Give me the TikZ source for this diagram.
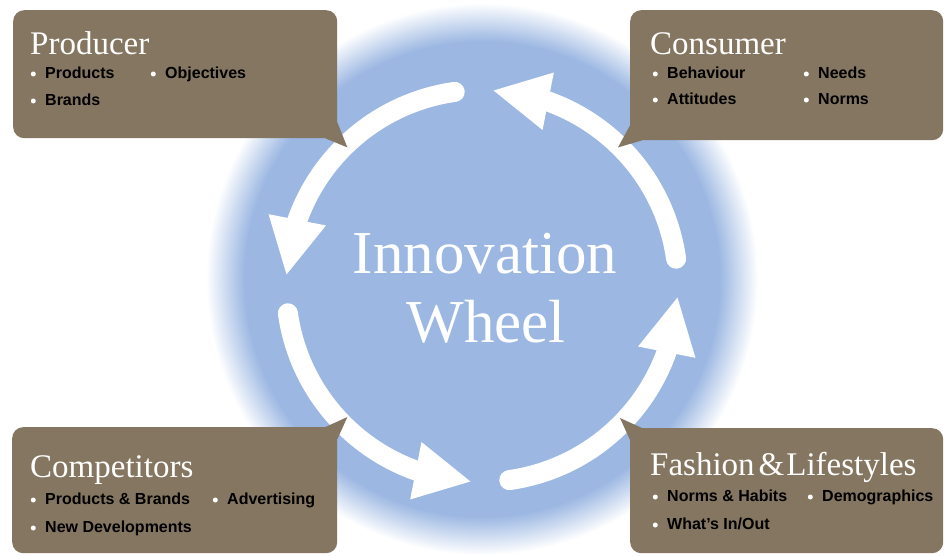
\documentclass[tikz,border=0pt]{standalone}
\usepackage{xcolor}
\usepackage{tikz}
\usepackage{fontspec}
\setmainfont{Liberation Serif}
\setsansfont{Liberation Sans}
\usetikzlibrary{positioning, arrows.meta, bending}
\definecolor{panelbrown}{RGB}{132,118,96}
\definecolor{wheelblue}{RGB}{155,183,226}
\pgfdeclareradialshading{wheelglow}{\pgfpoint{0bp}{0bp}}{color(0bp)=(wheelblue); color(21.5bp)=(wheelblue); color(25bp)=(white); color(50bp)=(white)}
\tikzset{
    panel/.style = {rectangle, rounded corners = 11pt, fill = panelbrown, anchor = north west, inner sep = 0pt},
    paneltail/.style = {fill = panelbrown},
    heading/.style = {anchor = base west, inner sep = 0pt, text = white, font = \fontsize{33}{33}\selectfont},
    itemtext/.style = {anchor = west, inner sep = 0pt, text height = 12pt, text depth = 3pt, font = \sffamily\bfseries\fontsize{16}{16}\selectfont},
    itemdot/.style = {circle, fill = white, minimum size = 5pt, inner sep = 0pt},
    hubtext/.style = {anchor = base, inner sep = 0pt, text = white, font = \fontsize{61}{61}\selectfont},
    spoke/.style = {draw = white, line width = 20pt, line cap = round, -{Triangle[length = 57pt, width = 54pt]}}
}

\begin{document}
\begin{tikzpicture}[x = 1pt, y = 1pt]
        \useasboundingbox (0, 0) rectangle (947, 555);
        \coordinate (hub) at (482, 269);
        \shade [shading = wheelglow] (482, 276) circle [radius = 276pt];
        \foreach \a in {0, 90, 180, 270}
            \draw [spoke] ([shift = {({\a + 8}:196pt)}]hub) arc [start angle = \a + 8, end angle = \a + 87, radius = 196pt];

        \node [panel, minimum width = 324pt, minimum height = 128pt] (prod) at (13, 545) {};
        \fill [paneltail] ([yshift = 16pt]prod.south east) -- ([xshift = 10pt, yshift = -9pt]prod.south east) -- ([xshift = -12pt]prod.south east) -- cycle;
        \node [panel, minimum width = 313pt, minimum height = 130pt] (cons) at (630, 545) {};
        \fill [paneltail] ([yshift = 15pt]cons.south west) -- ([xshift = -12pt, yshift = -7pt]cons.south west) -- ([xshift = 12pt]cons.south west) -- cycle;
        \node [panel, minimum width = 325pt, minimum height = 126pt] (comp) at (12, 128) {};
        \fill [paneltail] ([yshift = -12pt]comp.north east) -- ([xshift = 10pt, yshift = 10pt]comp.north east) -- ([xshift = -12pt]comp.north east) -- cycle;
        \node [panel, minimum width = 313pt, minimum height = 125pt] (fash) at (630, 127) {};
        \fill [paneltail] ([yshift = -12pt]fash.north west) -- ([xshift = -10pt, yshift = 10pt]fash.north west) -- ([xshift = 12pt]fash.north west) -- cycle;

        \node [heading] (prodT) at (30, 500) {Producer};
        \node [heading] (consT) at (650, 500) {Consumer};
        \node [heading] (compT) at (30, 78) {Competitors};
        \node [heading] (fashT) at (650, 80) {Fashion\hspace{4pt}\&\hspace{2pt}Lifestyles};

        \node [itemtext] (p1) at (45, 481) {Products};
        \node [itemtext] (p2) at (165, 481) {Objectives};
        \node [itemtext] (p3) at (45, 454) {Brands};
        \node [itemtext] (c1) at (667, 481) {Behaviour};
        \node [itemtext] (c2) at (818, 481) {Needs};
        \node [itemtext] (c3) at (667, 455) {Attitudes};
        \node [itemtext] (c4) at (818, 455) {Norms};
        \node [itemtext] (k1) at (45, 55) {Products \& Brands};
        \node [itemtext] (k2) at (227, 55) {Advertising};
        \node [itemtext] (k3) at (45, 27) {New Developments};
        \node [itemtext] (f1) at (667, 58) {Norms \& Habits};
        \node [itemtext] (f2) at (822, 58) {Demographics};
        \node [itemtext] (f3) at (667, 30) {What's In/Out};

        \node [itemdot, left = 9pt of p1] (dp1) {};
        \node [itemdot, left = 9pt of p2] (dp2) {};
        \node [itemdot, left = 9pt of p3] (dp3) {};
        \node [itemdot, left = 9pt of c1] (dc1) {};
        \node [itemdot, left = 9pt of c2] (dc2) {};
        \node [itemdot, left = 9pt of c3] (dc3) {};
        \node [itemdot, left = 9pt of c4] (dc4) {};
        \node [itemdot, left = 9pt of k1] (dk1) {};
        \node [itemdot, left = 9pt of k2] (dk2) {};
        \node [itemdot, left = 9pt of k3] (dk3) {};
        \node [itemdot, left = 9pt of f1] (df1) {};
        \node [itemdot, left = 9pt of f2] (df2) {};
        \node [itemdot, left = 9pt of f3] (df3) {};

        \node [hubtext] (inno) at (485, 282) {Innovation};
        \node [hubtext] (whl) at (486, 213) {Wheel};
\end{tikzpicture}
\end{document}
